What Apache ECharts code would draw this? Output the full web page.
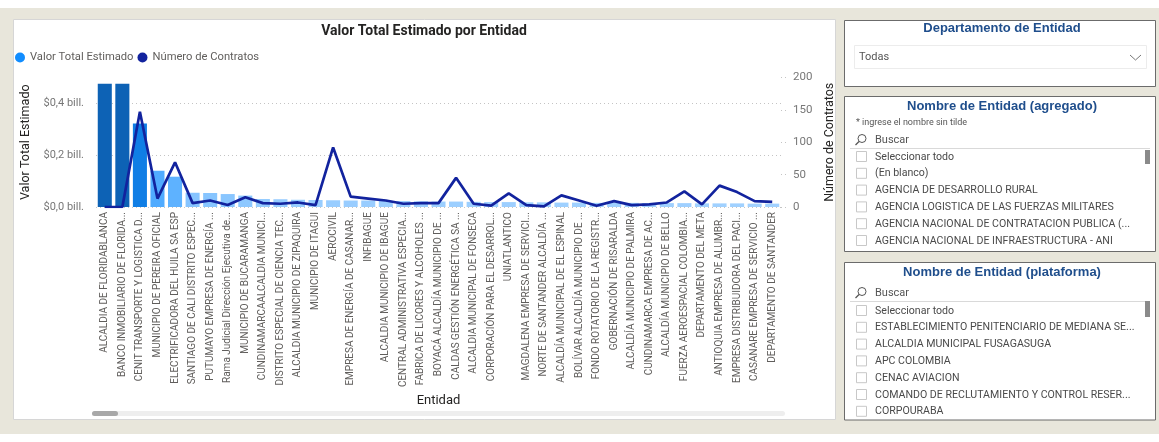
<!DOCTYPE html>
<html>
<head>
<meta charset="utf-8">
<script src="https://cdn.jsdelivr.net/npm/echarts@6/dist/echarts.min.js"></script>
<style>
html,body{margin:0;padding:0;background:#ffffff;}
#chart{width:1159px;height:442px;}
</style>
</head>
<body>
<div id="chart"></div>
<script>
// ---- Data ----
var categories = [
  'ALCALDIA DE FLORIDABLANCA','BANCO INMOBILIARIO DE FLORIDA...','CENIT TRANSPORTE Y LOGISTICA D...',
  'MUNICIPIO DE PEREIRA OFICIAL','ELECTRIFICADORA DEL HUILA SA ESP','SANTIAGO DE CALI DISTRITO ESPEC...',
  'PUTUMAYO EMPRESA DE ENERGÍA ...','Rama Judicial Dirección Ejecutiva de...','MUNICIPIO DE BUCARAMANGA',
  'CUNDINAMARCAALCALDIA MUNICI...','DISTRITO ESPECIAL DE CIENCIA TEC...','ALCALDIA MUNICIPIO DE ZIPAQUIRA',
  'MUNICIPIO DE ITAGUI','AEROCIVIL','EMPRESA DE ENERGÍA DE CASANAR...','INFIBAGUE',
  'ALCALDIA MUNICIPIO DE IBAGUE','CENTRAL ADMINISTRATIVA ESPECIA...','FABRICA DE LICORES Y ALCOHOLES ...',
  'BOYACÁ ALCALDÍA MUNICIPIO DE ...','CALDAS GESTIÓN ENERGÉTICA SA ...','ALCALDIA MUNICIPAL DE FONSECA',
  'CORPORACIÓN PARA EL DESARROL...','UNIATLANTICO','MAGDALENA EMPRESA DE SERVICI...',
  'NORTE DE SANTANDER ALCALDÍA ...','ALCALDÍA MUNICIPAL DE EL ESPINAL','BOLÍVAR ALCALDÍA MUNICIPIO DE ...',
  'FONDO ROTATORIO DE LA REGISTR...','GOBERNACIÓN DE RISARALDA','ALCALDÍA MUNICIPIO DE PALMIRA',
  'CUNDINAMARCA EMPRESA DE AC...','ALCALDÍA MUNICIPIO DE BELLO','FUERZA AEROESPACIAL COLOMBIA...',
  'DEPARTAMENTO DEL META','ANTIOQUIA EMPRESA DE ALUMBR...','EMPRESA DISTRIBUIDORA DEL PACI...',
  'CASANARE EMPRESA DE SERVICIO ...','DEPARTAMENTO DE SANTANDER'
];
// Valor Total Estimado (billones)
var valorTotal = [
  0.476,0.476,0.322,0.140,0.117,0.055,0.054,0.050,0.044,0.031,0.030,0.028,0.027,0.026,
  0.025,0.025,0.024,0.023,0.022,0.021,0.021,0.020,0.019,0.019,0.018,0.018,0.017,0.017,
  0.016,0.016,0.016,0.015,0.015,0.015,0.014,0.014,0.014,0.013,0.013
];
// Número de Contratos
var numContratos = [
  0,0,147,13,69,6,10,3,15,6,5,7,3,92,16,13,10,5,6,6,45,5,2,21,3,1,18,10,2,9,3,4,7,24,4,33,23,9,8
];
var leftTicks = {min:0, max:0.5, interval:0.2};
var rightTicks = {min:0, max:200, interval:50};
var dropdownValue = 'Todas';
var agregadoItems = ['Seleccionar todo','(En blanco)','AGENCIA DE DESARROLLO RURAL',
  'AGENCIA LOGISTICA DE LAS FUERZAS MILITARES','AGENCIA NACIONAL DE CONTRATACION PUBLICA (...',
  'AGENCIA NACIONAL DE INFRAESTRUCTURA - ANI'];
var plataformaItems = ['Seleccionar todo','ESTABLECIMIENTO PENITENCIARIO DE MEDIANA SE...',
  'ALCALDIA MUNICIPAL FUSAGASUGA','APC COLOMBIA','CENAC AVIACION',
  'COMANDO DE RECLUTAMIENTO Y CONTROL RESER...','CORPOURABA'];

// ---- Graphic helpers (panels) ----
var FONT = 'Roboto';
var g = [];
g.push({type:'rect', z:-10, shape:{x:0,y:8,width:1159,height:426}, style:{fill:'#E8E6DB'}});
g.push({type:'rect', z:-9, shape:{x:13.5,y:19.5,width:822,height:400}, style:{fill:'#ffffff', stroke:'#d6d6d6', lineWidth:1}});
g.push({type:'text', z:10, style:{text:'Valor Total Estimado por Entidad', x:424, y:31, textAlign:'center', textVerticalAlign:'middle', font:'bold 14px '+FONT, fill:'#252423'}});
// scrollbar
g.push({type:'rect', z:5, shape:{x:92,y:411,width:693,height:5,r:2.5}, style:{fill:'#eeeeee'}});
g.push({type:'rect', z:6, shape:{x:92,y:411,width:26,height:5,r:2.5}, style:{fill:'#a8a8a8'}});

function panel(y, h){
  g.push({type:'rect', z:-9, shape:{x:844.5,y:y,width:311,height:h}, style:{fill:'#ffffff', stroke:'#6b6b6b', lineWidth:1}});
}
function title(t, y){
  g.push({type:'text', z:10, style:{text:t, x:1002, y:y, textAlign:'center', textVerticalAlign:'middle', font:'bold 13px "Liberation Sans"', fill:'#1F4E8C'}});
}
function search(y){
  g.push({type:'circle', z:10, shape:{cx:862,cy:y-1.5,r:4}, style:{fill:'none', stroke:'#555', lineWidth:1}});
  g.push({type:'line', z:10, shape:{x1:859,y1:y+1.5,x2:855.5,y2:y+5}, style:{stroke:'#555', lineWidth:1.2}});
  g.push({type:'text', z:10, style:{text:'Buscar', x:875, y:y, textAlign:'left', textVerticalAlign:'middle', font:'11px '+FONT, fill:'#555'}});
  g.push({type:'line', z:10, shape:{x1:850,y1:y+8.5,x2:1150,y2:y+8.5}, style:{stroke:'#d9d9d9', lineWidth:1}});
}
function items(list, y0, thumbY, thumbH){
  list.forEach(function(t, i){
    var y = y0 + i*16.8;
    g.push({type:'rect', z:10, shape:{x:856.5,y:y-5.5,width:10,height:10}, style:{fill:'#fff', stroke:'#c8c8c8', lineWidth:1}});
    g.push({type:'text', z:10, style:{text:t, x:875, y:y, textAlign:'left', textVerticalAlign:'middle', font:'10.6px '+FONT, fill:'#4a4a4a'}});
  });
  g.push({type:'rect', z:10, shape:{x:1145,y:thumbY,width:5,height:thumbH}, style:{fill:'#8a8a8a'}});
}
panel(20.5, 66);
title('Departamento de Entidad', 28.5);
g.push({type:'rect', z:10, shape:{x:854.5,y:45.5,width:292,height:23}, style:{fill:'#fff', stroke:'#ececec', lineWidth:1}});
g.push({type:'text', z:10, style:{text:dropdownValue, x:859, y:57.5, textAlign:'left', textVerticalAlign:'middle', font:'11px '+FONT, fill:'#555'}});
g.push({type:'polyline', z:10, shape:{points:[[1130,55],[1135.5,60],[1141,55]]}, style:{fill:'none', stroke:'#777', lineWidth:1}});

panel(96.5, 155);
title('Nombre de Entidad (agregado)', 106);
g.push({type:'text', z:10, style:{text:'* ingrese el nombre sin tilde', x:856, y:123, textAlign:'left', textVerticalAlign:'middle', font:'9px '+FONT, fill:'#555'}});
search(140);
items(agregadoItems, 157, 150, 14);

panel(262.5, 157.5);
title('Nombre de Entidad (plataforma)', 272);
search(293);
items(plataformaItems, 311, 301, 16);

// ---- Chart ----
var chart = echarts.init(document.getElementById('chart'), null, {renderer:'canvas'});
var option = {
  backgroundColor:'transparent',
  animation:false,
  textStyle:{fontFamily:FONT},
  graphic:{elements:g},
  legend:{
    left:15, top:52, padding:0, itemWidth:10, itemHeight:10, itemGap:4,
    icon:'circle',
    textStyle:{fontSize:11.2, color:'#605E5C', fontFamily:FONT},
    data:[
      {name:'Valor Total Estimado', itemStyle:{color:'#118DFF'}},
      {name:'Número de Contratos', itemStyle:{color:'#12239E'}}
    ]
  },
  grid:{left:96, right:378, top:77.5, bottom:235, containLabel:false},
  xAxis:{
    type:'category', data:categories,
    axisLine:{show:false}, axisTick:{show:false},
    axisLabel:{rotate:90, interval:0, margin:5, fontSize:10, color:'#605E5C', fontFamily:FONT},
    name:'Entidad', nameLocation:'middle', nameGap:187,
    nameTextStyle:{fontSize:13, color:'#252423', fontFamily:FONT}
  },
  yAxis:[
    {
      type:'value', min:leftTicks.min, max:leftTicks.max, interval:leftTicks.interval,
      axisLine:{show:false}, axisTick:{show:false},
      axisLabel:{showMaxLabel:false, margin:12, fontSize:11, color:'#777777', fontFamily:FONT,
        formatter:function(v){ return '$' + v.toFixed(1).replace('.', ',') + ' bill.'; }},
      splitLine:{show:true, showMaxLine:false, lineStyle:{type:[1,3], color:'#c4c4c4', width:1}},
      name:'Valor Total Estimado', nameLocation:'middle', nameRotate:90, nameGap:64,
      nameTextStyle:{fontSize:12.5, color:'#252423', fontFamily:FONT}
    },
    {
      type:'value', min:rightTicks.min, max:rightTicks.max, interval:rightTicks.interval, position:'right',
      axisLine:{show:false},
      axisTick:{show:true, length:7, lineStyle:{type:[1,3], color:'#c4c4c4'}},
      axisLabel:{margin:12, fontSize:11.5, color:'#777777', fontFamily:FONT},
      splitLine:{show:false},
      name:'Número de Contratos', nameLocation:'middle', nameRotate:90, nameGap:38,
      nameTextStyle:{fontSize:12.5, color:'#252423', fontFamily:FONT}
    }
  ],
  visualMap:{
    show:false, type:'continuous', seriesIndex:0, dimension:1,
    min:0, max:0.476,
    inRange:{color:['#a9d5ff','#118DFF','#0d62b5']}
  },
  series:[
    {
      name:'Valor Total Estimado', type:'bar', yAxisIndex:0, data:valorTotal,
      barCategoryGap:'20%', itemStyle:{color:'#118DFF'}
    },
    {
      name:'Número de Contratos', type:'line', yAxisIndex:1, data:numContratos,
      showSymbol:false, symbol:'none', lineStyle:{color:'#12239E', width:2.7},
      itemStyle:{color:'#12239E'}, z:5
    }
  ]
};
chart.setOption(option);
</script>
</body>
</html>
